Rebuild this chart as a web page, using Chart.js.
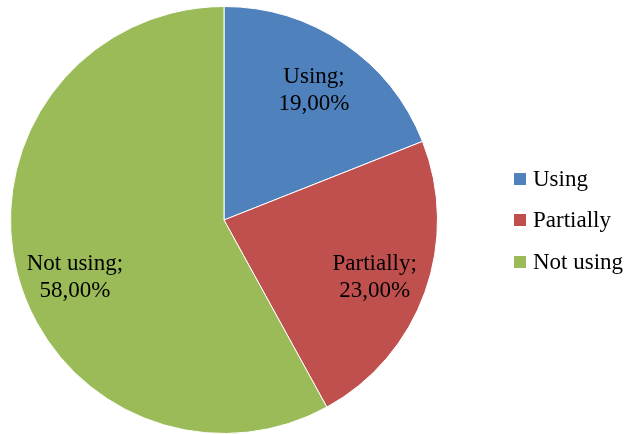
<!DOCTYPE html>
<html>
<head>
<meta charset="utf-8">
<script src="https://cdn.jsdelivr.net/npm/chart.js@4/dist/chart.umd.min.js"></script>
<style>
  html, body { margin: 0; padding: 0; background: #fff; }
  #wrap { position: relative; width: 627px; height: 434px; }
  #legend { position: absolute; left: 514px; top: 0; font-family: "Liberation Serif", "Times New Roman", serif; font-size: 23px; color: #000; }
  .item { position: absolute; left: 0; white-space: nowrap; display: flex; align-items: center; }
  .box { width: 12px; height: 12px; margin-right: 7px; }
</style>
</head>
<body>
<div id="wrap">
  <canvas id="pieChart" width="627" height="434"></canvas>
  <div id="legend"></div>
</div>
<script>
// Data
const categories = ["Using", "Partially", "Not using"];
const values = [19, 23, 58];
const colors = ["#4F81BD", "#C0504D", "#9BBB59"];

// Legend rows (vertical centres)
const legendY = [180, 221, 263];
// small nudges for the slice labels (x, y)
const labelNudge = [[0, 2], [0, 3], [6, 17]];

// HTML legend
const legend = document.getElementById("legend");
legend.innerHTML = categories
  .map(
    (c, i) => `
  <div class="item" style="top:${legendY[i] - 14}px">
    <div class="box" style="background:${colors[i]}"></div><span>${c}</span>
  </div>`
  )
  .join("");

// Slice labels: "Name;" / "19,00%"
const sliceLabels = {
  id: "sliceLabels",
  afterDatasetsDraw(chart) {
    const ctx = chart.ctx;
    const meta = chart.getDatasetMeta(0);
    ctx.save();
    ctx.font = '23px "Liberation Serif", "Times New Roman", serif';
    ctx.fillStyle = "#000";
    ctx.textAlign = "center";
    ctx.textBaseline = "middle";
    meta.data.forEach((arc, i) => {
      const mid = (arc.startAngle + arc.endAngle) / 2;
      const r = arc.outerRadius * 0.75;
      const x = arc.x + Math.cos(mid) * r + labelNudge[i][0];
      const y = arc.y + Math.sin(mid) * r + labelNudge[i][1];
      const pct = values[i].toFixed(2).replace(".", ",") + "%";
      ctx.fillText(categories[i] + ";", x, y - 13);
      ctx.fillText(pct, x, y + 14);
    });
    ctx.restore();
  },
};

new Chart(document.getElementById("pieChart").getContext("2d"), {
  type: "pie",
  data: {
    labels: categories,
    datasets: [
      {
        data: values,
        backgroundColor: colors,
        borderColor: "#fff",
        borderWidth: 1,
      },
    ],
  },
  options: {
    responsive: false,
    animation: false,
    layout: { padding: { left: 10, right: 189, top: 6, bottom: 0 } },
    plugins: {
      legend: { display: false },
      tooltip: { enabled: false },
    },
  },
  plugins: [sliceLabels],
});
</script>
</body>
</html>
